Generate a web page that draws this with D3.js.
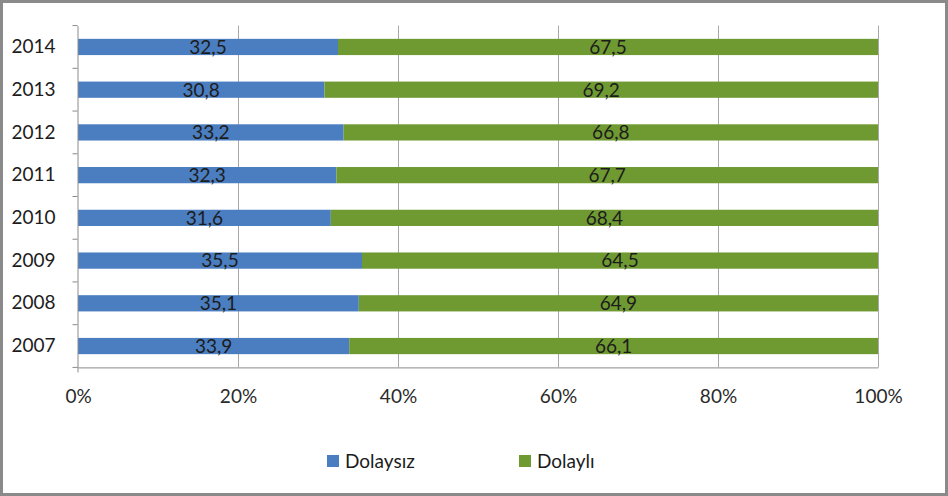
<html>
  <head>
    <script src="https://d3js.org/d3.v7.min.js"></script>
    <style>
      body { margin: 0; background: #fff; }
      text { font-family: Lato, "Open Sans", sans-serif; }
    </style>
  </head>
  <body>
    <div id="chart"></div>
    <script>
      const years = ['2014', '2013', '2012', '2011', '2010', '2009', '2008', '2007'];
      const dolaysiz = [32.5, 30.8, 33.2, 32.3, 31.6, 35.5, 35.1, 33.9];
      const dolayli = [67.5, 69.2, 66.8, 67.7, 68.4, 64.5, 64.9, 66.1];
      const seriesNames = ['Dolaysız', 'Dolaylı'];
      const xTicks = [0, 0.2, 0.4, 0.6, 0.8, 1];

      const width = 948, height = 496;
      const margin = {top: 25.6, right: 70, bottom: 128.6, left: 78};
      const colors = ['#4a7ec0', '#6f9a32'];
      const fontSize = 19;

      const svg = d3.create('svg')
        .attr('width', width)
        .attr('height', height);

      // outer border
      svg.append('rect')
        .attr('x', 1.5).attr('y', 1.5)
        .attr('width', width - 3).attr('height', height - 3)
        .attr('fill', '#fff')
        .attr('stroke', '#8a8a8a')
        .attr('stroke-width', 3);

      const xScale = d3.scaleLinear()
        .domain([0, 1])
        .range([margin.left, width - margin.right]);

      const yScale = d3.scaleBand()
        .domain(years)
        .range([margin.top, height - margin.bottom])
        .paddingInner(0.62)
        .paddingOuter(0.31);

      // gridlines
      svg.append('g')
        .selectAll('line')
        .data(xTicks.slice(1))
        .join('line')
        .attr('x1', d => Math.round(xScale(d)) + 0.5)
        .attr('x2', d => Math.round(xScale(d)) + 0.5)
        .attr('y1', margin.top)
        .attr('y2', height - margin.bottom)
        .attr('stroke', '#a8a8a8');

      const rows = years.map((y, i) => ({year: y, a: dolaysiz[i], b: dolayli[i]}));

      // stacked bars
      const g = svg.append('g');
      g.selectAll('rect.a')
        .data(rows)
        .join('rect')
        .attr('class', 'a')
        .attr('x', xScale(0))
        .attr('y', d => yScale(d.year))
        .attr('width', d => xScale(d.a / 100) - xScale(0))
        .attr('height', yScale.bandwidth())
        .attr('fill', colors[0]);
      g.selectAll('rect.b')
        .data(rows)
        .join('rect')
        .attr('class', 'b')
        .attr('x', d => xScale(d.a / 100))
        .attr('y', d => yScale(d.year))
        .attr('width', d => xScale((d.a + d.b) / 100) - xScale(d.a / 100))
        .attr('height', yScale.bandwidth())
        .attr('fill', colors[1]);

      const fmt = v => v.toFixed(1).replace('.', ',');
      g.selectAll('text.la')
        .data(rows)
        .join('text')
        .attr('x', d => xScale(d.a / 200))
        .attr('y', d => yScale(d.year) + yScale.bandwidth() / 2)
        .attr('dy', '0.36em')
        .attr('text-anchor', 'middle')
        .attr('font-size', fontSize)
        .attr('fill', '#1c1c1c')
        .text(d => fmt(d.a));
      g.selectAll('text.lb')
        .data(rows)
        .join('text')
        .attr('x', d => xScale((d.a + d.b / 2) / 100))
        .attr('y', d => yScale(d.year) + yScale.bandwidth() / 2)
        .attr('dy', '0.36em')
        .attr('text-anchor', 'middle')
        .attr('font-size', fontSize)
        .attr('fill', '#1c1c1c')
        .text(d => fmt(d.b));

      // x axis
      const xAxis = svg.append('g')
        .attr('transform', `translate(0, ${height - margin.bottom})`)
        .call(d3.axisBottom(xScale).tickValues(xTicks).tickFormat(d3.format('.0%')).tickSize(0).tickPadding(22));
      xAxis.select('.domain').attr('stroke', '#8a8a8a');
      xAxis.selectAll('text').attr('font-size', fontSize).attr('fill', '#2a2a2a');
      xAxis.append('line')
        .attr('x1', xScale(0)).attr('x2', xScale(0))
        .attr('y1', 0).attr('y2', 5)
        .attr('stroke', '#8a8a8a');

      // y axis
      const step = yScale.step();
      const yAxis = svg.append('g')
        .attr('transform', `translate(${margin.left - 0.5}, 0)`)
        .call(d3.axisLeft(yScale).tickSize(0).tickPadding(22));
      yAxis.select('.domain').attr('stroke', '#8a8a8a');
      yAxis.selectAll('text').attr('font-size', fontSize).attr('fill', '#1c1c1c');
      yAxis.selectAll('line.b')
        .data(d3.range(years.length + 1))
        .join('line')
        .attr('class', 'b')
        .attr('x1', -5).attr('x2', 0)
        .attr('y1', i => margin.top + i * step)
        .attr('y2', i => margin.top + i * step)
        .attr('stroke', '#8a8a8a');

      // legend
      const legendX = [327, 519];
      const legend = svg.append('g')
        .selectAll('g')
        .data(seriesNames)
        .join('g')
        .attr('transform', (d, i) => `translate(${legendX[i]}, 461)`);
      legend.append('rect')
        .attr('x', 0).attr('y', -6)
        .attr('width', 12).attr('height', 12)
        .attr('fill', (d, i) => colors[i]);
      legend.append('text')
        .attr('x', 18)
        .attr('dy', '0.36em')
        .attr('font-size', fontSize)
        .attr('fill', '#1c1c1c')
        .text(d => d);

      document.getElementById('chart').appendChild(svg.node());
    </script>
  </body>
</html>
